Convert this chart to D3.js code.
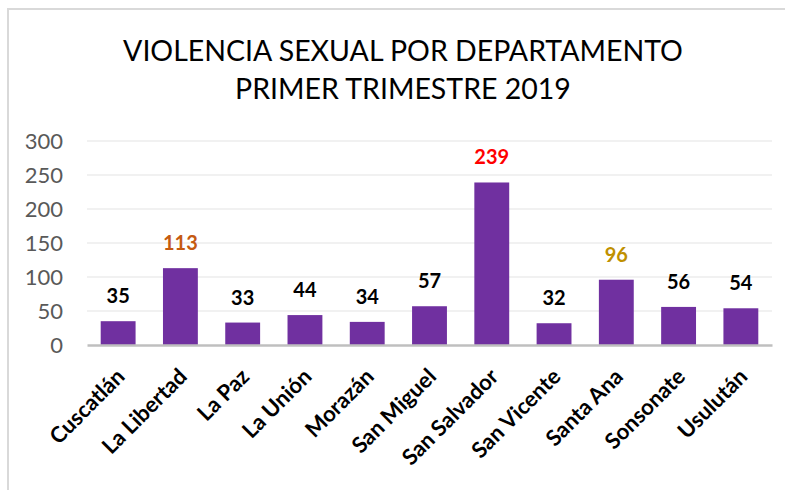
<!DOCTYPE html>
<html>
<head>
<meta charset="utf-8">
<script src="https://cdn.jsdelivr.net/npm/d3@7"></script>
<style>
  html, body { margin: 0; padding: 0; background: #fff; }
  svg { display: block; }
</style>
</head>
<body>
<div id="chart"></div>
<script>
const categories = ["Cuscatlán", "La Libertad", "La Paz", "La Unión", "Morazán", "San Miguel", "San Salvador", "San Vicente", "Santa Ana", "Sonsonate", "Usulután"];
const values = [35, 113, 33, 44, 34, 57, 239, 32, 96, 56, 54];
const labelColors = ["#000000", "#c55a11", "#000000", "#000000", "#000000", "#000000", "#ff0000", "#000000", "#bf9000", "#000000", "#000000"];
const yTicks = [0, 50, 100, 150, 200, 250, 300];
const titleLines = ["VIOLENCIA SEXUAL POR DEPARTAMENTO", "PRIMER TRIMESTRE 2019"];

const W = 785, H = 490;
const FONT = "Lato, 'Open Sans', sans-serif";
const svg = d3.select("#chart").append("svg").attr("width", W).attr("height", H);

// chart border
svg.append("rect").attr("x", 8).attr("y", 9).attr("width", W + 10).attr("height", H + 10)
  .attr("fill", "#fff").attr("stroke", "#d9d9d9").attr("stroke-width", 2);

const plot = { left: 87, right: 772, top: 141, bottom: 345 };
const x = d3.scaleBand().domain(categories).range([plot.left, plot.right]).paddingInner(0.44).paddingOuter(0.22);
const y = d3.scaleLinear().domain([0, 300]).range([plot.bottom, plot.top]);

// title
svg.append("g").selectAll("text").data(titleLines).join("text")
  .attr("x", 403).attr("y", (d, i) => 61 + i * 38)
  .attr("text-anchor", "middle")
  .attr("font-family", FONT).attr("font-size", 28.5).attr("fill", "#000")
  .text(d => d);

// gridlines
svg.append("g").selectAll("line").data(yTicks.filter(t => t > 0)).join("line")
  .attr("x1", plot.left).attr("x2", plot.right)
  .attr("y1", d => y(d)).attr("y2", d => y(d))
  .attr("stroke", "#ececec").attr("stroke-width", 1.5);

// y axis labels
const yAxis = d3.axisLeft(y).tickValues(yTicks).tickSize(0).tickPadding(0);
const gy = svg.append("g").attr("transform", `translate(63,0)`).call(yAxis);
gy.select(".domain").remove();
gy.selectAll("text").attr("font-family", FONT).attr("font-size", 22).attr("fill", "#595959").attr("dy", "0.35em");

// bars
svg.append("g").selectAll("rect").data(values).join("rect")
  .attr("x", (d, i) => x(categories[i]))
  .attr("width", x.bandwidth())
  .attr("y", d => y(d))
  .attr("height", d => y(0) - y(d))
  .attr("fill", "#7030a0");

// x axis line
const xAxis = d3.axisBottom(x).tickSize(0).tickPadding(0);
const gx = svg.append("g").attr("transform", `translate(0,${plot.bottom})`).call(xAxis);
gx.select(".domain").attr("stroke", "#bfbfbf").attr("stroke-width", 2.5);
gx.selectAll(".tick text")
  .attr("font-family", FONT).attr("font-size", 22).attr("font-weight", "bold").attr("fill", "#000")
  .attr("text-anchor", "end")
  .attr("dy", 0).attr("y", 0)
  .attr("transform", "translate(8,33) rotate(-45)");

// data labels
svg.append("g").selectAll("text").data(values).join("text")
  .attr("x", (d, i) => x(categories[i]) + x.bandwidth() / 2)
  .attr("y", d => y(d) - 18)
  .attr("text-anchor", "middle")
  .attr("font-family", FONT).attr("font-size", 20).attr("font-weight", "bold")
  .attr("fill", (d, i) => labelColors[i])
  .text(d => d);
</script>
</body>
</html>
